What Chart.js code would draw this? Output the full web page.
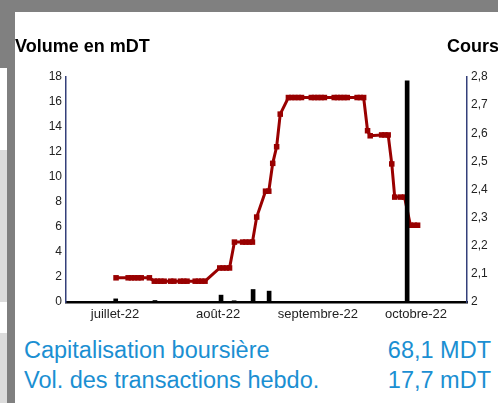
<!DOCTYPE html>
<html lang="fr">
<head>
  <meta charset="UTF-8">
  <title>Volume et cours</title>
  <script src="https://cdn.jsdelivr.net/npm/chart.js"></script>
  <style>
    body {
      margin: 0;
      width: 498px;
      height: 403px;
      overflow: hidden;
      position: relative;
      background: #fff;
      font-family: "Liberation Sans", Arial, sans-serif;
    }
    .bloc { position: absolute; }
    .titre {
      position: absolute;
      font-weight: bold;
      font-size: 18px;
      line-height: 18px;
      color: #000;
      white-space: nowrap;
    }
    .info {
      position: absolute;
      font-size: 23.5px;
      line-height: 23.5px;
      color: #1b8fd2;
      white-space: nowrap;
    }
    canvas { position: absolute; left: 0; top: 0; }
  </style>
</head>
<body>
  <!-- cadre gris autour du panneau -->
  <div class="bloc" style="left:0;top:0;width:498px;height:12px;background:#808080"></div>
  <div class="bloc" style="left:0;top:0;width:7px;height:68px;background:#808080"></div>
  <div class="bloc" style="left:0;top:150px;width:7px;height:152px;background:#dcdcdc"></div>
  <div class="bloc" style="left:0;top:333px;width:7px;height:70px;background:#dcdcdc"></div>
  <div class="bloc" style="left:7px;top:0;width:8px;height:403px;background:#808080"></div>

  <canvas id="graphe" width="498" height="335"></canvas>

  <div class="titre" style="left:15px;top:37px">Volume en mDT</div>
  <div class="titre" style="left:447px;top:37px">Cours</div>

  <div class="info" style="left:24px;top:339px">Capitalisation boursière</div>
  <div class="info" style="right:7px;top:339px">68,1 MDT</div>
  <div class="info" style="left:24px;top:369px">Vol. des transactions hebdo.</div>
  <div class="info" style="right:7px;top:369px">17,7 mDT</div>

  <script>
    // axe des temps : jours depuis début juillet
    const moisJours = [0, 31.5, 62, 92];
    const moisLabels = ['juillet-22', 'août-22', 'septembre-22', 'octobre-22'];

    // volume en mDT
    const joursVolume = [0.2, 12.2, 32.4, 36.4, 42.2, 47.1, 89.3];
    const volumes = [0.25, 0.12, 0.55, 0.1, 1.0, 0.87, 17.7];

    // cours
    const joursCours = [
      0.3, 4, 5, 6, 7, 8, 10.5,
      12, 13, 14, 15, 17, 18, 20, 21, 22, 24.5, 25.5, 26.5, 27.5,
      32, 33, 34, 35,
      36.5, 39, 40, 41, 42,
      43.3, 46, 47, 48.2, 49.4, 50.5,
      53, 54, 55, 56, 57, 60, 61, 62, 63, 64, 67, 68, 69, 70, 71, 74, 75, 76,
      77.2, 78, 81.5, 82.5, 83.5,
      84.6, 85.5, 87.3, 88.5,
      90.3, 91.5, 92.5
    ];
    const cours = [
      2.086, 2.086, 2.086, 2.086, 2.086, 2.086, 2.086,
      2.074, 2.074, 2.074, 2.074, 2.074, 2.074, 2.074, 2.074, 2.074, 2.074, 2.074, 2.074, 2.074,
      2.121, 2.121, 2.121, 2.121,
      2.213, 2.213, 2.213, 2.213, 2.213,
      2.302, 2.394, 2.394, 2.493, 2.552, 2.668,
      2.727, 2.727, 2.727, 2.727, 2.727, 2.727, 2.727, 2.727, 2.727, 2.727, 2.727, 2.727, 2.727, 2.727, 2.727, 2.727, 2.727, 2.727,
      2.609, 2.591, 2.594, 2.594, 2.594,
      2.491, 2.373, 2.373, 2.373,
      2.273, 2.273, 2.273
    ];

    const coursLabels = ['2', '2,1', '2,2', '2,3', '2,4', '2,5', '2,6', '2,7', '2,8'];

    const rouge = '#990000';
    const bleuAxe = '#34407a';
    const police = { family: '"Liberation Sans", Arial, sans-serif', size: 12 };

    const ctx = document.getElementById('graphe').getContext('2d');
    new Chart(ctx, {
      type: 'bar',
      data: {
        datasets: [
          {
            type: 'bar',
            data: joursVolume.map((j, i) => ({ x: j, y: volumes[i] })),
            backgroundColor: '#000',
            barThickness: 4,
            yAxisID: 'y'
          },
          {
            type: 'line',
            data: joursCours.map((j, i) => ({ x: j, y: cours[i] })),
            borderColor: rouge,
            borderWidth: 3,
            tension: 0,
            pointStyle: 'rect',
            pointRadius: 3.9,
            pointBorderWidth: 0,
            pointBackgroundColor: rouge,
            yAxisID: 'y1'
          }
        ]
      },
      options: {
        responsive: false,
        animation: false,
        devicePixelRatio: 1,
        layout: { padding: { top: 77, left: 0, right: 0, bottom: 0 } },
        plugins: { legend: { display: false }, tooltip: { enabled: false } },
        scales: {
          x: {
            type: 'linear',
            min: -15,
            max: 107.6,
            offset: false,
            grid: { display: false, offset: false, drawTicks: false },
            border: { color: '#000', width: 2.5 },
            afterBuildTicks: (scale) => {
              scale.ticks = moisJours.map(v => ({ value: v }));
            },
            afterFit: (scale) => { scale.height = 33; },
            ticks: {
              autoSkip: false,
              maxRotation: 0,
              padding: 5,
              color: '#222',
              font: { family: police.family, size: 13 },
              callback: (v, i) => moisLabels[i]
            }
          },
          y: {
            position: 'left',
            min: 0,
            max: 18,
            grid: { display: false, drawTicks: false },
            border: { color: bleuAxe, width: 1.5 },
            afterFit: (scale) => { scale.width = 66; },
            ticks: { stepSize: 2, padding: 4, color: '#222', font: police }
          },
          y1: {
            position: 'right',
            min: 2,
            max: 2.8,
            grid: { display: false, drawTicks: false },
            border: { color: bleuAxe, width: 1.5 },
            afterFit: (scale) => { scale.width = 31; },
            ticks: {
              stepSize: 0.1,
              padding: 4,
              color: '#222',
              font: police,
              callback: (v, i) => coursLabels[i]
            }
          }
        }
      }
    });
  </script>
</body>
</html>
